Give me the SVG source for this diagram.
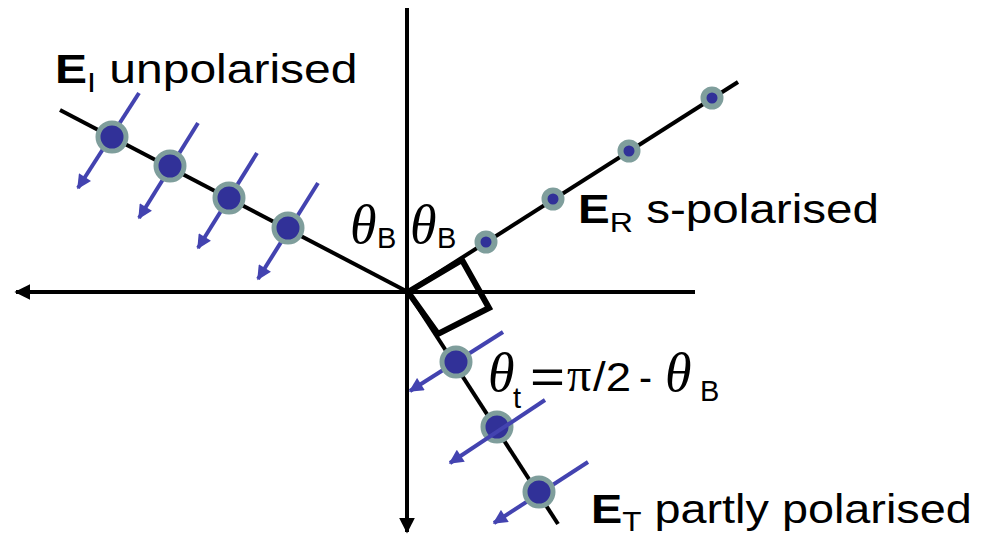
<svg xmlns="http://www.w3.org/2000/svg" width="990" height="537" viewBox="0 0 990 537">
<defs>
<style>
.ax{stroke:#000;stroke-width:4;fill:none}
.ray{stroke:#000;stroke-width:4;fill:none}
.ba{stroke:#4343b0;stroke-width:4;fill:none;marker-end:url(#bh)}
.big{fill:#313198;stroke:#7f9e9c;stroke-width:5}
.sm{fill:#313198;stroke:#7f9e9c;stroke-width:6}
.t{font-family:"Liberation Sans",Arial,sans-serif;font-size:40px;fill:#000;font-style:normal}
.b{font-weight:bold}
.s{font-size:27px}
.ss{font-size:29px}
.th{font-family:"Liberation Serif","Times New Roman",serif;font-style:italic;font-size:54px;fill:#000}
.pi{font-family:"Liberation Serif","Times New Roman",serif;font-style:normal;font-size:48px;fill:#000}
</style>
<marker id="kh" viewBox="0 0 10 10" refX="9" refY="5" markerWidth="4" markerHeight="4" orient="auto" markerUnits="strokeWidth">
<path d="M0,0 L10,5 L0,10 z" fill="#000"/>
</marker>
<marker id="bh" viewBox="0 0 10 10" refX="9" refY="5" markerWidth="4" markerHeight="3.6" orient="auto" markerUnits="strokeWidth">
<path d="M0,0 L10,5 L0,10 z" fill="#4343b0"/>
</marker>
</defs>
<rect width="990" height="537" fill="#fff"/>
<g id="connectors">
<line class="ax" x1="695" y1="292" x2="16" y2="292" marker-end="url(#kh)"/>
<line class="ax" x1="407" y1="8" x2="407" y2="532" marker-end="url(#kh)"/>
<line class="ray" x1="60" y1="110" x2="408" y2="292"/>
<line class="ray" x1="408" y1="292" x2="738" y2="82"/>
<line class="ray" x1="408" y1="292" x2="558" y2="524"/>
<polygon points="408,292 462,260 489,308 438,334" fill="none" stroke="#000" stroke-width="6" stroke-linejoin="miter"/>
</g>
<g id="incident">
<line class="ba" x1="139" y1="93" x2="78" y2="188"/>
<line class="ba" x1="198" y1="123" x2="139" y2="218"/>
<line class="ba" x1="257" y1="153" x2="198" y2="248"/>
<line class="ba" x1="318" y1="183" x2="258" y2="279"/>
<circle class="big" cx="112" cy="137" r="14"/>
<circle class="big" cx="170" cy="166" r="14"/>
<circle class="big" cx="229" cy="198" r="14"/>
<circle class="big" cx="288" cy="228" r="14"/>
</g>
<g id="reflected">
<circle class="sm" cx="486" cy="242" r="8.5"/>
<circle class="sm" cx="553" cy="199" r="8.5"/>
<circle class="sm" cx="629" cy="151" r="8.5"/>
<circle class="sm" cx="712" cy="98" r="8.5"/>
</g>
<g id="transmitted">
<line class="ba" x1="503" y1="332" x2="410" y2="391"/>
<circle class="big" cx="456" cy="362" r="14"/>
<circle class="big" cx="497" cy="427" r="14"/>
<line class="ba" x1="545" y1="400" x2="450" y2="463"/>
<line class="ba" x1="588" y1="462" x2="494" y2="523"/>
<circle class="big" cx="539" cy="492" r="14"/>
</g>
<g id="label-incident" transform="translate(55,83) scale(1.2,1)">
<text class="t" x="0" y="0"><tspan class="b">E</tspan><tspan class="s" dy="9">I</tspan><tspan dy="-9"> unpolarised</tspan></text>
</g>
<g id="label-reflected" transform="translate(578,223) scale(1.19,1)">
<text class="t" x="0" y="0"><tspan class="b">E</tspan><tspan class="s" dy="9">R</tspan><tspan dy="-9"> s-polarised</tspan></text>
</g>
<g id="label-transmitted" transform="translate(591,523) scale(1.17,1)">
<text class="t" x="0" y="0"><tspan class="b">E</tspan><tspan class="s" dy="8">T</tspan><tspan dy="-8"> partly polarised</tspan></text>
</g>
<g id="theta-left">
<text class="th" x="350" y="243">θ</text>
<text class="t ss" x="377" y="248">B</text>
</g>
<g id="theta-right">
<text class="th" x="410" y="243">θ</text>
<text class="t ss" x="437" y="248">B</text>
</g>
<g id="theta-t">
<text class="th" x="488" y="391">θ</text>
<text class="t ss" x="513" y="408">t</text>
<text class="t" x="530" y="393" style="font-size:48px" textLength="35" lengthAdjust="spacingAndGlyphs">=</text>
<text class="pi" x="567" y="391">π</text>
<text class="t" x="593" y="391" textLength="38" lengthAdjust="spacingAndGlyphs">/2</text>
<text class="t" x="639" y="391" textLength="13" lengthAdjust="spacingAndGlyphs">-</text>
<text class="th" x="665" y="391">θ</text>
<text class="t ss" x="700" y="401">B</text>
</g>
</svg>
